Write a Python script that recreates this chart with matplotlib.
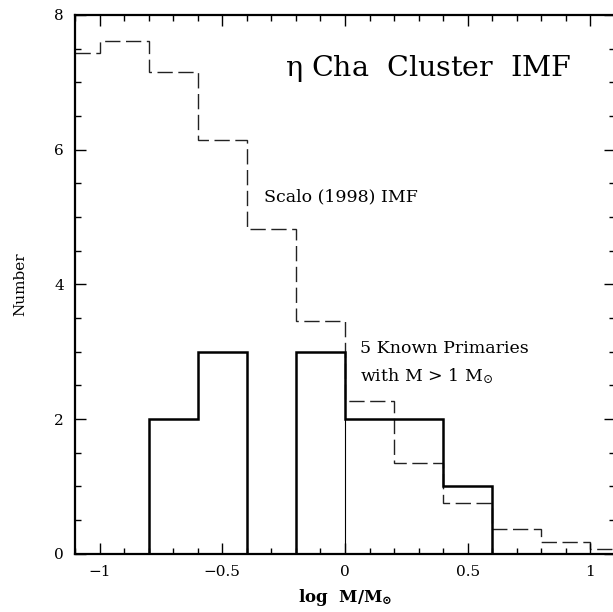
import matplotlib
matplotlib.use("Agg")
import matplotlib.pyplot as plt
import numpy as np
from matplotlib.ticker import MultipleLocator

plt.rcParams['font.family'] = ['DejaVu Serif']
plt.rcParams['mathtext.fontset'] = 'dejavuserif'
plt.rcParams['mathtext.default'] = 'regular'

# Scalo (1998) IMF histogram (dashed)
scalo_edges = [-1.1, -1.0, -0.8, -0.6, -0.4, -0.2, 0.0, 0.2, 0.4, 0.6, 0.8, 1.0, 1.1]
scalo_counts = [7.43, 7.62, 7.16, 6.14, 4.82, 3.45, 2.27, 1.35, 0.75, 0.37, 0.17, 0.07]

# Observed eta Cha cluster IMF (solid)
obs_edges = [-0.8, -0.6, -0.4, -0.2, 0.0, 0.2, 0.4, 0.6]
obs_counts = [2, 3, 0, 3, 2, 2, 1]

fig = plt.figure(figsize=(6.13, 6.12), dpi=100)
ax = fig.add_axes([0.1223, 0.0953, 0.881, 0.8802])

ax.stairs(scalo_counts, scalo_edges, baseline=None, color='#222222', linewidth=1.0,
          linestyle=(0, (11, 4)))
ax.stairs(obs_counts, obs_edges, color='black', linewidth=1.8)
ax.vlines(0.0, 0, 2, color='black', linewidth=0.8)

ax.set_xlim(-1.1, 1.1)
ax.set_ylim(0, 8)
ax.xaxis.set_major_locator(MultipleLocator(0.5))
ax.xaxis.set_minor_locator(MultipleLocator(0.1))
ax.yaxis.set_major_locator(MultipleLocator(2))
ax.yaxis.set_minor_locator(MultipleLocator(0.5))
ax.set_xticks([-1, -0.5, 0, 0.5, 1])
ax.set_xticklabels(['\u22121', '\u22120.5', '0', '0.5', '1'])
ax.tick_params(which='both', direction='in', top=True, right=True, width=1)
ax.tick_params(which='major', length=8, pad=8, labelsize=11)
ax.tick_params(which='minor', length=4)
for s in ax.spines.values():
    s.set_linewidth(1.6)

ax.set_xlabel(r'log  M/M$_{\odot}$', fontsize=12, fontweight='bold', labelpad=6)
ax.set_ylabel('Number', fontsize=11, labelpad=19)

ax.text(-0.245, 7.2, r'$\eta$ Cha  Cluster  IMF', fontsize=20.5, ha='left', va='center')
ax.text(-0.33, 5.3, 'Scalo (1998) IMF', fontsize=12.5, ha='left', va='center')
ax.text(0.06, 3.05, '5 Known Primaries', fontsize=12.5, ha='left', va='center')
ax.text(0.06, 2.63, r'with M > 1 M$_{\odot}$', fontsize=12.5, ha='left', va='center')

fig.savefig('out.png', dpi=100)
